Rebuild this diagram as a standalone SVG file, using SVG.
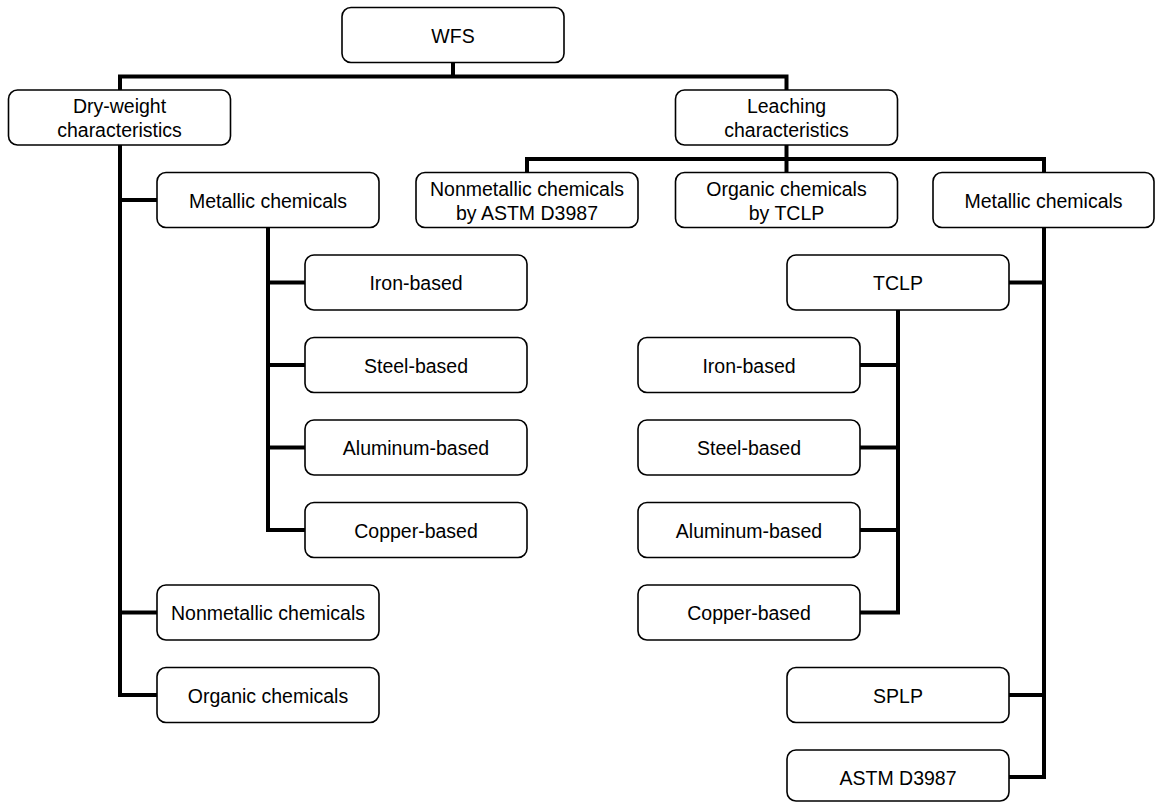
<svg xmlns="http://www.w3.org/2000/svg" width="1155" height="802" viewBox="0 0 1155 802">
<style>
.box{fill:#ffffff;stroke:#000000;stroke-width:1.6}
.t{font-family:"Liberation Sans",Arial,Helvetica,sans-serif;font-size:19.5px;fill:#000000;text-anchor:middle}
.c{fill:none;stroke:#000000;stroke-width:4;stroke-linejoin:miter;stroke-linecap:butt}
</style>
<rect x="0" y="0" width="1155" height="802" fill="#ffffff"/>
<g id="connectors">
<path class="c" d="M453,62.5 V76.5"/>
<path class="c" d="M120,90 V76.5 H786.5 V90"/>
<path class="c" d="M120,145 V695 H157"/>
<path class="c" d="M120,200 H157"/>
<path class="c" d="M120,612.5 H157"/>
<path class="c" d="M268,227.5 V530 H305"/>
<path class="c" d="M268,282.5 H305"/>
<path class="c" d="M268,365 H305"/>
<path class="c" d="M268,447.5 H305"/>
<path class="c" d="M527,172.5 V159 H1044 V172.5"/>
<path class="c" d="M786.5,145 V172.5"/>
<path class="c" d="M1044,227.5 V777 H1009"/>
<path class="c" d="M1044,282.5 H1009"/>
<path class="c" d="M1044,695 H1009"/>
<path class="c" d="M898,310 V612.5 H860"/>
<path class="c" d="M898,365 H860"/>
<path class="c" d="M898,447.5 H860"/>
<path class="c" d="M898,530 H860"/>
</g>
<g id="wfs"><rect class="box" x="342" y="7.5" width="222" height="55" rx="9"/><text class="t" x="453" y="43">WFS</text></g>
<g id="dry"><rect class="box" x="8.5" y="90" width="222" height="55" rx="9"/><text class="t" x="119.5" y="113">Dry-weight</text><text class="t" x="119.5" y="137">characteristics</text></g>
<g id="leach"><rect class="box" x="675.5" y="90" width="222" height="55" rx="9"/><text class="t" x="786.5" y="113">Leaching</text><text class="t" x="786.5" y="137">characteristics</text></g>
<g id="metL"><rect class="box" x="157" y="172.5" width="222" height="55" rx="9"/><text class="t" x="268" y="207.5">Metallic chemicals</text></g>
<g id="nonA"><rect class="box" x="416" y="172.5" width="222" height="55" rx="9"/><text class="t" x="527" y="195.5">Nonmetallic chemicals</text><text class="t" x="527" y="219.5">by ASTM D3987</text></g>
<g id="orgT"><rect class="box" x="675.5" y="172.5" width="222" height="55" rx="9"/><text class="t" x="786.5" y="195.5">Organic chemicals</text><text class="t" x="786.5" y="219.5">by TCLP</text></g>
<g id="metR"><rect class="box" x="933" y="172.5" width="221" height="55" rx="9"/><text class="t" x="1043.5" y="207.5">Metallic chemicals</text></g>
<g id="ironL"><rect class="box" x="305" y="255" width="222" height="55" rx="9"/><text class="t" x="416" y="290">Iron-based</text></g>
<g id="steelL"><rect class="box" x="305" y="337.5" width="222" height="55" rx="9"/><text class="t" x="416" y="372.5">Steel-based</text></g>
<g id="alL"><rect class="box" x="305" y="420" width="222" height="55" rx="9"/><text class="t" x="416" y="455">Aluminum-based</text></g>
<g id="copL"><rect class="box" x="305" y="502.5" width="222" height="55" rx="9"/><text class="t" x="416" y="537.5">Copper-based</text></g>
<g id="nonL"><rect class="box" x="157" y="585" width="222" height="55" rx="9"/><text class="t" x="268" y="620">Nonmetallic chemicals</text></g>
<g id="orgL"><rect class="box" x="157" y="667.5" width="222" height="55" rx="9"/><text class="t" x="268" y="702.5">Organic chemicals</text></g>
<g id="tclp"><rect class="box" x="787" y="255" width="222" height="55" rx="9"/><text class="t" x="898" y="290">TCLP</text></g>
<g id="ironR"><rect class="box" x="638" y="337.5" width="222" height="55" rx="9"/><text class="t" x="749" y="372.5">Iron-based</text></g>
<g id="steelR"><rect class="box" x="638" y="420" width="222" height="55" rx="9"/><text class="t" x="749" y="455">Steel-based</text></g>
<g id="alR"><rect class="box" x="638" y="502.5" width="222" height="55" rx="9"/><text class="t" x="749" y="537.5">Aluminum-based</text></g>
<g id="copR"><rect class="box" x="638" y="585" width="222" height="55" rx="9"/><text class="t" x="749" y="620">Copper-based</text></g>
<g id="splp"><rect class="box" x="787" y="667.5" width="222" height="55" rx="9"/><text class="t" x="898" y="702.5">SPLP</text></g>
<g id="astm"><rect class="box" x="787" y="750" width="222" height="51" rx="9"/><text class="t" x="898" y="785">ASTM D3987</text></g>
</svg>
